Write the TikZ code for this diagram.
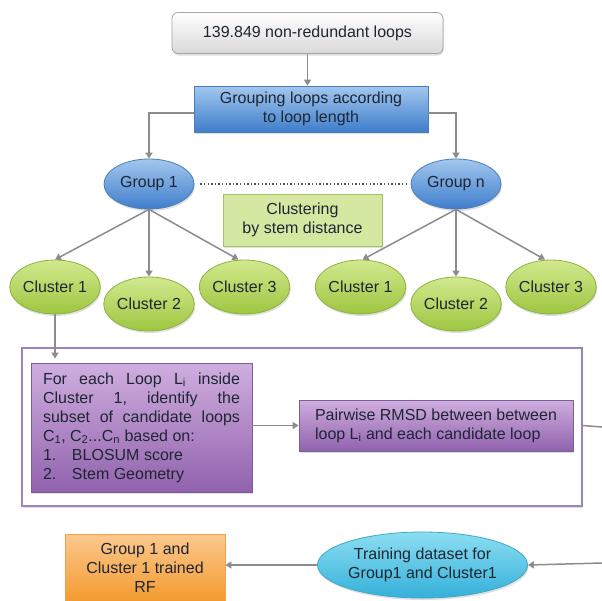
\documentclass[tikz,border=0pt]{standalone}
\usepackage{fontspec}
\setmainfont{Liberation Sans}
\usetikzlibrary{arrows.meta,shapes.geometric,shadows}
\definecolor{txt}{HTML}{1E2633}
\definecolor{ln}{HTML}{8C8C8C}
\definecolor{blueTop}{HTML}{A3C7EE}
\definecolor{blueBot}{HTML}{3F7ECB}
\definecolor{blueEdge}{HTML}{4A7EBB}
\definecolor{greenTop}{HTML}{D2E88E}
\definecolor{greenBot}{HTML}{9EC640}
\definecolor{greenEdge}{HTML}{8DB33C}
\definecolor{stemFill}{HTML}{D5E8A1}
\definecolor{stemEdge}{HTML}{A4C263}
\definecolor{purpTop}{HTML}{CFAEDF}
\definecolor{purpBot}{HTML}{9162AD}
\definecolor{purpEdge}{HTML}{7D5E9C}
\definecolor{frameEdge}{HTML}{9A84C0}
\definecolor{cyanTop}{HTML}{8CDEF2}
\definecolor{cyanBot}{HTML}{35B0DA}
\definecolor{cyanEdge}{HTML}{3EA8C8}
\definecolor{orTop}{HTML}{FCC88E}
\definecolor{orBot}{HTML}{F39A2E}
\definecolor{orEdge}{HTML}{F5A04A}
\tikzset{
  shad/.style={drop shadow={opacity=0.25, shadow xshift=1pt, shadow yshift=-2pt}},
  grayboxst/.style={rectangle, rounded corners=6pt, draw=gray!70, line width=0.8pt, top color=white, bottom color=gray!30, shad, minimum width=271pt, minimum height=41pt, inner sep=0pt},
  blueboxst/.style={rectangle, draw=blueEdge, line width=0.8pt, top color=blueTop, bottom color=blueBot, shad, minimum width=234pt, minimum height=46pt, inner sep=0pt, align=center},
  groupst/.style={ellipse, draw=blueEdge, line width=0.8pt, top color=blueTop, bottom color=blueBot, shad, minimum width=90pt, minimum height=50pt, inner sep=0pt},
  clusterst/.style={ellipse, draw=greenEdge, line width=0.8pt, top color=greenTop, bottom color=greenBot, shad, minimum width=84pt, minimum height=54pt, inner sep=0pt},
  stemst/.style={rectangle, draw=stemEdge, line width=0.8pt, fill=stemFill, shad, minimum width=159pt, minimum height=52pt, inner sep=0pt, align=center},
  purpst/.style={rectangle, draw=purpEdge, line width=0.8pt, top color=purpTop, bottom color=purpBot, shad, inner sep=0pt},
  framest/.style={rectangle, draw=frameEdge, line width=1.5pt, fill=white, shad, minimum width=560pt, minimum height=158pt, inner sep=0pt},
  cyanst/.style={ellipse, draw=cyanEdge, line width=0.8pt, top color=cyanTop, bottom color=cyanBot, shad, minimum width=193pt, minimum height=66pt, inner sep=0pt, align=center},
  orst/.style={rectangle, draw=orEdge, line width=0.8pt, top color=orTop, bottom color=orBot, minimum width=160pt, minimum height=68pt, inner sep=0pt, align=center},
  conn/.style={draw=ln, line width=1.5pt},
  arr/.style={conn, -{Triangle[width=7pt,length=6pt]}},
  dotln/.style={draw=txt!80, line width=1.3pt, dash pattern=on 1.4pt off 2.2pt}
}
\begin{document}
\begin{tikzpicture}[x=1pt,y=-1pt, every node/.style={text=txt, font=\fontsize{16}{19}\selectfont}]
\useasboundingbox (0,0) rectangle (602,600);
\clip (0,0) rectangle (602,600);
\fill[white] (0,0) rectangle (602,600);

\node[grayboxst] (top) at (307.5,33) {139.849 non-redundant loops};
\node[blueboxst] (grp) at (311,109) {Grouping loops according\\to loop length};
\node[groupst] (g1) at (149,184) {Group 1};
\node[groupst] (gn) at (456,184) {Group n};
\node[stemst] (stem) at (302.5,220) {Clustering\\by stem distance};

\node[clusterst] (c11) at (55,287) {Cluster 1};
\node[clusterst] (c12) at (149,304) {Cluster 2};
\node[clusterst] (c13) at (244.5,287) {Cluster 3};
\node[clusterst] (c21) at (360.5,287) {Cluster 1};
\node[clusterst] (c22) at (456,304) {Cluster 2};
\node[clusterst] (c23) at (551,287) {Cluster 3};

\node[framest] (frame) at (302,427) {};
\node[purpst, minimum width=221pt, minimum height=129pt] (lbox) at (141.5,427.5) {\parbox{197pt}{\frenchspacing For each Loop L\textsubscript{i} inside\linebreak
Cluster 1, identify the\linebreak
subset of candidate loops\linebreak
C\textsubscript{1}, C\textsubscript{2}...C\textsubscript{n} based on:\\
\makebox[29pt][l]{1.}BLOSUM score\\
\makebox[29pt][l]{2.}Stem Geometry}};
\node[purpst, minimum width=274pt, minimum height=51pt, align=left] (pbox) at (436,425.5) {Pairwise RMSD between between\\loop L\textsubscript{i} and each candidate loop};

\node[cyanst] (train) at (422.5,565) {Training dataset for\\Group1 and Cluster1};
\node[orst] (rf) at (145,568) {Group 1 and\\Cluster 1 trained\\RF};

\coordinate (r1) at (602,427);
\coordinate (r2) at (602,563);

\draw[arr] (top.south) -- (top.south |- grp.north);
\draw[arr] ([yshift=-4pt]grp.west) -| (g1.north);
\draw[arr] ([yshift=-4pt]grp.east) -| (gn.north);
\draw[dotln] ([xshift=6pt]g1.east) -- ([xshift=-3pt]gn.west);

\draw[arr] (g1.south) -- (c11.north);
\draw[arr] (g1.south) -- (c12.north);
\draw[arr] (g1.south) -- ([xshift=-6pt]c13.north);
\draw[arr] (gn.south) -- ([xshift=2pt]c21.north);
\draw[arr] (gn.south) -- (c22.north);
\draw[arr] (gn.south) -- ([xshift=-6pt]c23.north);

\draw[arr, shorten >=4pt] (c11.south) -- (c11.south |- lbox.north);
\draw[arr] (lbox.east |- pbox.west) -- (pbox.west);
\draw[conn] (frame.east |- pbox.east) -- (r1);
\draw[arr] (r2) -- (train.east);
\draw[arr] (train.west) -- (rf.east |- train.west);
\end{tikzpicture}
\end{document}
